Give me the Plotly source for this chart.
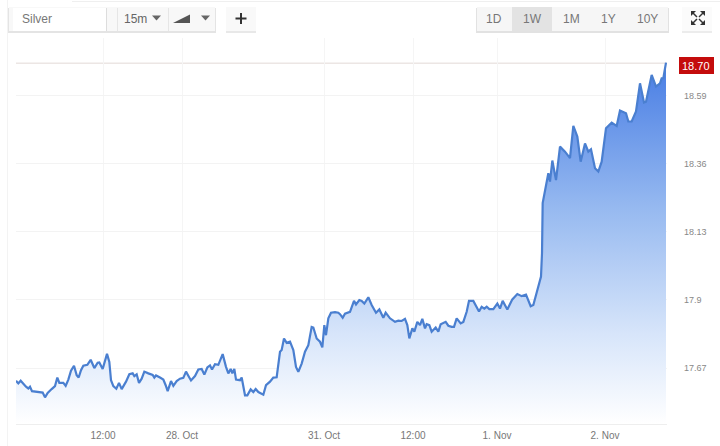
import plotly.graph_objects as go

# Time axis: elapsed chart units (about 3 units per pixel, 63 units per 3 trading hours)
elapsed = [0,7,14,22,30,37,42,48,62,80,87,95,107,117,124,130,142,149,157,165,174,182,188,195,202,214,224,235,245,250,
260,273,280,285,292,301,309,317,330,340,350,355,362,369,377,385,397,410,415,420,432,442,449,455,465,472,482,492,502,510,
519,525,537,547,557,565,574,582,588,597,607,620,630,637,644,649,655,660,672,677,687,694,704,712,719,727,742,750,762,772,782,
792,797,804,812,822,832,840,847,857,867,877,887,892,902,912,919,925,930,937,945,957,967,972,980,987,1002,1014,1020,1030,1037,1045,1057,1067,1080,1090,1102,1109,1122,1137,1147,1157,1167,1174,1180,1189,1195,1204,1212,1219,1227,1232,1240,1247,1259,1267,1274,1289,1297,1307,1314,1322,1334,1342,1352,1359,1372,1382,1389,1397,1405,1412,1420,1432,1444,1452,1460,1474,1489,1504,1517,1530,1544,1552,1565,1572,
1575,1578,1580,1597,1602,1609,1620,1632,1647,1662,1672,1684,1694,1707,1717,1725,1737,1747,1757,1770,1787,1802,1812,1830,1837,1847,1860,1872,1884,1890,1907,1920,1932,1937,1942,1950]

price = [17.627,17.618,17.627,17.616,17.607,17.601,17.607,17.592,17.589,17.587,17.571,17.586,17.599,17.609,17.638,17.620,17.620,17.610,17.631,17.661,
17.678,17.646,17.638,17.663,17.678,17.681,17.698,17.670,17.688,17.689,17.667,17.718,17.691,17.629,17.609,17.600,17.620,17.599,17.624,17.649,
17.652,17.643,17.649,17.620,17.634,17.658,17.652,17.647,17.638,17.645,17.638,17.631,17.612,17.592,17.626,17.610,17.626,17.634,17.637,17.658,
17.640,17.628,17.643,17.665,17.667,17.648,17.672,17.679,17.665,17.683,17.681,17.717,17.674,17.652,17.667,17.652,17.667,17.631,17.629,17.638,
17.578,17.578,17.598,17.589,17.599,17.589,17.580,17.612,17.624,17.638,17.639,
17.725,17.731,17.770,17.755,17.759,17.731,17.674,17.657,17.685,17.725,17.747,17.809,17.807,17.770,17.759,17.740,17.815,17.781,17.838,17.857,17.859,17.857,17.852,17.840,17.854,17.860,17.897,17.885,17.900,17.897,17.888,17.909,17.883,17.857,17.868,17.840,17.857,17.838,17.826,17.830,17.829,17.836,17.815,17.770,17.804,17.793,17.826,17.815,17.836,17.804,17.818,17.815,17.793,17.807,17.793,17.818,17.826,17.813,17.809,17.809,17.838,17.821,17.826,17.860,17.897,17.897,17.877,17.861,17.877,17.871,17.877,17.869,17.869,17.888,17.871,17.897,17.868,17.902,17.920,17.913,17.918,17.879,17.883,17.933,17.962,
17.979,18.058,18.227,18.328,18.300,18.371,18.305,18.418,18.401,18.379,18.488,18.452,18.367,18.429,18.401,18.409,18.345,18.334,18.367,18.480,18.499,18.488,18.540,18.531,18.503,18.503,18.537,18.632,18.567,18.570,18.660,18.621,18.632,18.649,18.649,18.702]
assert len(elapsed) == len(price), (len(elapsed), len(price))

x_tick_pos = [261, 498, 924, 1191, 1443, 1767]
x_tick_labels = ["12:00", "28. Oct", "31. Oct", "12:00", "1. Nov", "2. Nov"]
y_ticks = [17.67, 17.9, 18.13, 18.36, 18.59]
y_tick_labels = ["17.67", "17.9", "18.13", "18.36", "18.59"]
last_price = 18.70
series_name = "Silver"
interval_label = "15m"
range_buttons = ["1D", "1W", "1M", "1Y", "10Y"]

W, H = 720, 446
L, R, T, B = 16, 53, 38, 22
PW, PH = W - L - R, H - T - B
def px(v): return (v - L) / PW
def py(v): return 1 - (v - T) / PH

shapes, annos = [], []
def rect(x0, y0, x1, y1, fill, line=None):
    shapes.append(dict(type="rect", xref="paper", yref="paper", x0=px(x0), x1=px(x1), y0=py(y0), y1=py(y1),
                       fillcolor=fill, line=dict(color=line or fill, width=1 if line else 0), layer="below"))
def path(pts, fill=None, line=None, width=1.5):
    d = "M" + " L".join(f"{px(a):.5f} {py(b):.5f}" for a, b in pts)
    if fill: d += " Z"
    shapes.append(dict(type="path", xref="paper", yref="paper", path=d, fillcolor=fill or "rgba(0,0,0,0)",
                       line=dict(color=line or "rgba(0,0,0,0)", width=width if line else 0), layer="above"))
def text(x, y, s, size=12, color="#666666", anchor="center"):
    annos.append(dict(xref="paper", yref="paper", x=px(x), y=py(y), text=s, showarrow=False, xanchor=anchor,
                      yanchor="middle", font=dict(size=size, color=color, family="Liberation Sans"),
                      xshift=0, yshift=0))

# frame
rect(7, 0, 8, 446, "#f3f3f3")
rect(72, 1, 720, 2, "#efefef")
# left toolbar with soft shadow
rect(8, 8, 216, 33, "#e4e4e4")
rect(9, 7, 215, 31, "#f8f8f8")
rect(13, 8, 106, 31, "#ffffff")
rect(106, 8, 107, 31, "#dddddd")
rect(117, 8, 118, 31, "#e6e6e6")
rect(168, 8, 169, 31, "#e6e6e6")
text(20, 19, series_name, 12, "#777777", "left")
text(135, 18.5, interval_label, 12, "#666666")
path([(152, 15.5), (161, 15.5), (156.5, 20.5)], fill="#666666")
path([(173, 23), (190, 14.5), (190, 23)], fill="#555555")
path([(201, 15.5), (210, 15.5), (205.5, 20.5)], fill="#666666")
# add button
rect(226, 8, 256, 33, "#e8e8e8")
rect(226, 7, 256, 31, "#f9f9f9")
path([(241, 13), (241, 24)], line="#333333", width=2)
path([(235.5, 18.5), (246.5, 18.5)], line="#333333", width=2)
# range buttons
rect(476, 8, 669, 33, "#e2e2e2")
rect(477, 7, 668, 31, "#f6f6f6")
rect(512, 7, 552, 31, "#e3e3e3")
for cx, lab in zip([494, 532, 571, 608, 647], range_buttons):
    text(cx, 18.5, lab, 12, "#777777")
# expand button
rect(682, 8, 712, 33, "#ececec")
rect(682, 7, 712, 31, "#fbfbfb")
for a, b, sx, sy in [(691, 11, 1, 1), (705, 11, -1, 1), (691, 25, 1, -1), (705, 25, -1, -1)]:
    path([(a, b), (a + 5 * sx, b), (a, b + 5 * sy)], fill="#333333")
    path([(a + 2 * sx, b + 2 * sy), (a + 6 * sx, b + 6 * sy)], line="#333333", width=1.5)
# last price tag
rect(679, 57, 714, 74, "#c40c0c")
text(696.5, 65.5, f"{last_price:.2f}", 11, "#ffffff")
# last price line
shapes.append(dict(type="line", xref="paper", yref="y", x0=0, x1=1, y0=last_price, y1=last_price,
                   line=dict(color="#e2d9d7", width=1), layer="below"))

fig = go.Figure(go.Scatter(
    x=elapsed, y=price, mode="lines", line=dict(color="#4a7fd0", width=2.2), fill="tozeroy",
    fillgradient=dict(type="vertical", start=17.48, stop=18.70,
                      colorscale=[[0, "rgba(255,255,255,1)"], [0.25, "rgb(215,229,250)"], [0.6, "rgb(150,185,240)"], [1, "rgb(72,125,228)"]]),
    hoverinfo="skip", showlegend=False))

fig.update_layout(
    width=W, height=H, margin=dict(l=L, r=R, t=T, b=B, pad=0, autoexpand=False),
    paper_bgcolor="#ffffff", plot_bgcolor="#ffffff", shapes=shapes, annotations=annos,
    font=dict(family="Liberation Sans", size=10, color="#777777"),
    xaxis=dict(range=[0, 1953], tickmode="array", tickvals=x_tick_pos, ticktext=x_tick_labels, automargin=False,
               showgrid=True, gridcolor="#f5f5f5", zeroline=False, showline=True, linecolor="#eeeeee",
               ticks="", ticklabelstandoff=2, tickfont=dict(size=10, color="#777777")),
    yaxis=dict(range=[17.481, 18.785], side="right", tickmode="array", tickvals=y_ticks, ticktext=y_tick_labels, automargin=False,
               showgrid=True, gridcolor="#f3f3f3", zeroline=False, showline=False, ticks="",
               ticklabelstandoff=16, tickfont=dict(size=9, color="#888888")),
)
fig.write_html("out.html", config=dict(displayModeBar=False),
               post_script="document.body.style.margin='0';document.documentElement.style.overflow='hidden';")
